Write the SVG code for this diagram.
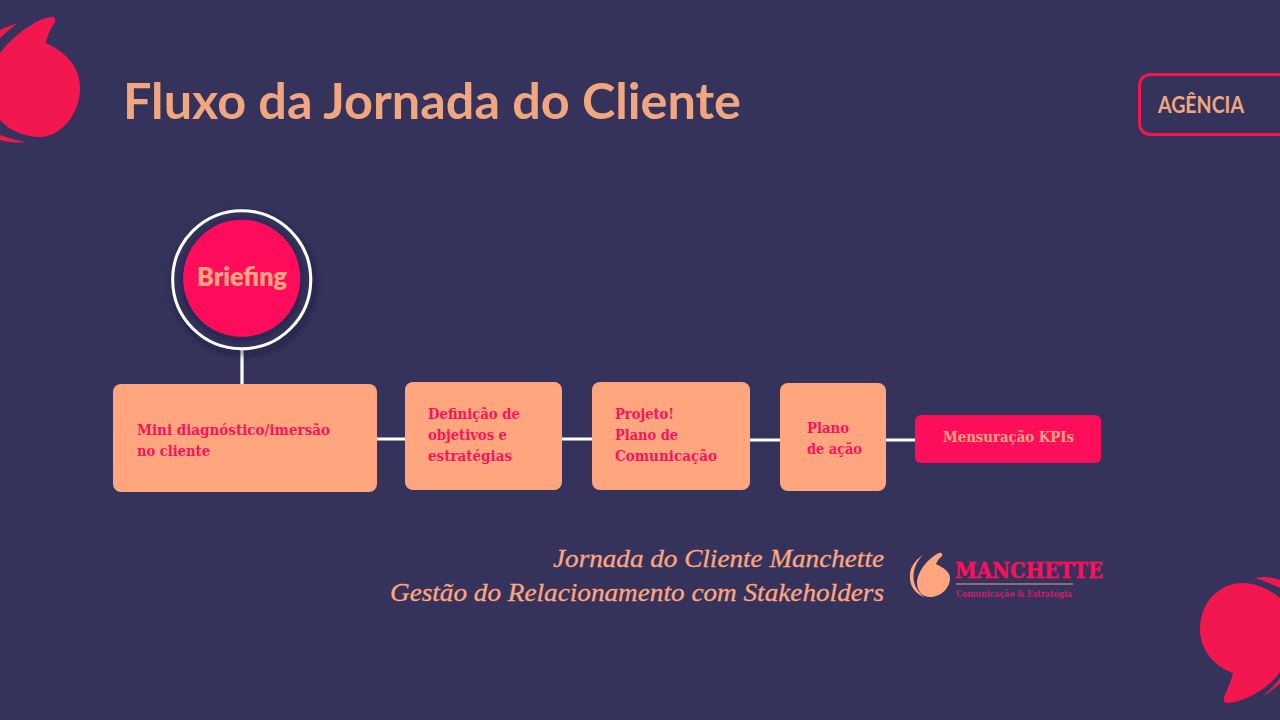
<svg xmlns="http://www.w3.org/2000/svg" width="1280" height="720" viewBox="0 0 1280 720">
<defs>
<style>
.head{font-family:"Lato","Liberation Sans",sans-serif;font-weight:700;fill:#f0a67e}
.lbl{font-family:"DejaVu Serif","Liberation Serif",serif;font-weight:700;font-size:15px;fill:#f9145c}
.sub{font-family:"Liberation Serif","DejaVu Serif",serif;font-style:italic;font-size:26px;fill:#ffa67f;stroke:#ffa67f;stroke-width:.3}
.box{fill:#ffa67f}
.wire{stroke:#fff;stroke-width:3.2;fill:none}
.mark{fill:#f2174f}
</style>
<filter id="sh" x="-20%" y="-20%" width="140%" height="140%"><feDropShadow dx="2" dy="4" stdDeviation="4" flood-color="#15132e" flood-opacity=".55"/></filter>
<filter id="sh2" x="-20%" y="-20%" width="140%" height="140%"><feDropShadow dx="0" dy="2" stdDeviation="5" flood-color="#15132e" flood-opacity=".5"/></filter>
</defs>
<rect width="1280" height="720" fill="#35335b"/>
<g id="mark-top">
<path class="mark" d="M0 53C10 40 22 30 33 24C39 20 46 17 52 17C55 17 56 20 55 22C51 28 47 36 46 43C60 50 80 62 80 88C80 115 60 137 40 137C25 137 8 130 0 120Z"/>
<path class="mark" d="M0 30C6 27 12 25 18 23C11 28 5 33 0 38ZM0 135C8 138 17 140 25 142C15 143 7 142 0 140Z"/>
</g>
<text class="head" x="123" y="119" font-size="50" textLength="618" lengthAdjust="spacingAndGlyphs">Fluxo da Jornada do Cliente</text>
<g id="agencia">
<path d="M1280 74.500H1152Q1139.500 74.500 1139.500 87V122Q1139.500 134.500 1152 134.500H1280" fill="none" stroke="#f2174f" stroke-width="3"/>
<text class="head" x="1158" y="113" font-size="22" textLength="86" lengthAdjust="spacingAndGlyphs">AGÊNCIA</text>
</g>
<g id="connectors">
<path class="wire" d="M242 350V384M377 439H405M562 439H592M750 440H780M886 440H915"/>
</g>
<g id="briefing">
<circle cx="241.700" cy="279.700" r="69" fill="#35335b" stroke="#fff" stroke-width="3" filter="url(#sh)"/>
<circle cx="241.700" cy="278.300" r="58.500" fill="#ff0f5b" filter="url(#sh2)"/>
<text x="242" y="286" font-family="Lato,'Liberation Sans',sans-serif" font-weight="800" font-size="26" text-anchor="middle" fill="#ffa67f" textLength="90" lengthAdjust="spacingAndGlyphs">Briefing</text>
</g>
<g id="n1"><rect class="box" x="113" y="384" width="264" height="108" rx="8"/>
<text class="lbl" x="137" y="435" textLength="193" lengthAdjust="spacingAndGlyphs">Mini diagnóstico/imersão</text>
<text class="lbl" x="137" y="456" textLength="73" lengthAdjust="spacingAndGlyphs">no cliente</text></g>
<g id="n2"><rect class="box" x="405" y="382" width="157" height="108" rx="8"/>
<text class="lbl" x="428" y="419" textLength="92" lengthAdjust="spacingAndGlyphs">Definição de</text>
<text class="lbl" x="428" y="440" textLength="79" lengthAdjust="spacingAndGlyphs">objetivos e</text>
<text class="lbl" x="428" y="461" textLength="84" lengthAdjust="spacingAndGlyphs">estratégias</text></g>
<g id="n3"><rect class="box" x="592" y="382" width="158" height="108" rx="8"/>
<text class="lbl" x="615" y="419" textLength="59" lengthAdjust="spacingAndGlyphs">Projeto!</text>
<text class="lbl" x="615" y="440" textLength="63" lengthAdjust="spacingAndGlyphs">Plano de</text>
<text class="lbl" x="615" y="461" textLength="102" lengthAdjust="spacingAndGlyphs">Comunicação</text></g>
<g id="n4"><rect class="box" x="780" y="383" width="106" height="108" rx="8"/>
<text class="lbl" x="807" y="433" textLength="42" lengthAdjust="spacingAndGlyphs">Plano</text>
<text class="lbl" x="807" y="454" textLength="55" lengthAdjust="spacingAndGlyphs">de ação</text></g>
<g id="n5"><rect x="915" y="415" width="186" height="48" rx="6" fill="#ff0f5b"/>
<text class="lbl" x="943" y="442" style="fill:#ffa67f" textLength="131" lengthAdjust="spacingAndGlyphs">Mensuração KPIs</text></g>
<text class="sub" x="884" y="567" text-anchor="end" textLength="331" lengthAdjust="spacingAndGlyphs">Jornada do Cliente Manchette</text>
<text class="sub" x="884" y="601" text-anchor="end" textLength="494" lengthAdjust="spacingAndGlyphs">Gestão do Relacionamento com Stakeholders</text>
<g id="logo">
<path d="M939 553C941 552 943 554 942 556C939 559 937 561 936 564C944 568 950 572 950 578C950 588 941 597 930 597C922 597 917 590 917 583C917 572 928 558 939 553Z" fill="#ffa67f"/>
<path d="M923 555C914 561 909 569 910 578C910 587 916 594 925 597.500C918 592 914 586 913.500 578C913 569 917 561 923 555Z" fill="#ffa67f"/>
<text x="955" y="578" font-family="'DejaVu Serif',serif" font-weight="700" font-size="23" fill="#ff0f5b" stroke="#ff0f5b" stroke-width=".4" textLength="148" lengthAdjust="spacingAndGlyphs">MANCHETTE</text>
<rect x="956" y="583.500" width="117" height="1" fill="#e9a48a"/>
<text x="956" y="597" font-family="'DejaVu Serif',serif" font-weight="700" font-size="9" fill="#d11a68" textLength="116" lengthAdjust="spacingAndGlyphs">Comunicação &amp; Estratégia</text>
</g>
<g id="mark-bottom">
<path class="mark" d="M1280 598C1270 590 1257 583 1243 583C1218 583 1200 603 1200 630C1200 650 1215 667 1233 673C1231 682 1227 690 1224 697C1223 702 1225 703 1228 703C1240 703 1266 692 1280 672Z"/>
<path class="mark" d="M1255 578C1263 576 1272 577 1280 580V588C1272 584 1264 581 1255 578ZM1262 697C1268 692 1274 686 1280 678V683C1274 689 1268 693 1262 697Z"/>
</g>
</svg>
